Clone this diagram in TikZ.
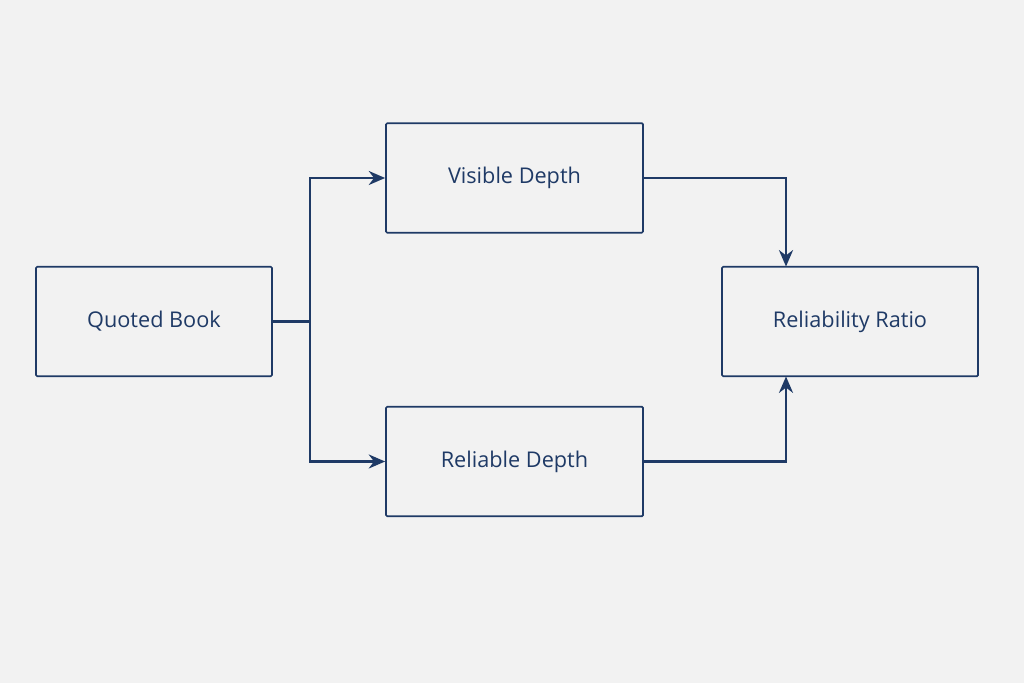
\documentclass[tikz,border=0pt]{standalone}
\usepackage{fontspec}
\setmainfont{Open Sans}
\usetikzlibrary{arrows.meta}
\definecolor{boxLine}{HTML}{1F3A66}
\definecolor{pageBg}{HTML}{F2F2F2}

\begin{document}
\begin{tikzpicture}[x=0.03cm, y=-0.03cm,
    stage/.style={draw=boxLine, line width=1.5pt, rounded corners=1pt, fill=pageBg, text=boxLine,
        font=\fontsize{18.5}{22}\selectfont, minimum height=3.28cm},
    flow/.style={draw=boxLine, line width=2pt, -{Stealth[length=14pt, width=12pt]}}]
    \fill[pageBg] (0,0) rectangle (1024,683);
    \useasboundingbox (0,0) rectangle (1024,683);

    % Source and the two depths
    \node[stage, minimum width=7.08cm] (quoted) at (154,321.5) {Quoted Book};
    \node[stage, minimum width=7.71cm] (visible) at (514.5,178) {Visible Depth};
    \node[stage, minimum width=7.71cm] (reliable) at (514.5,461.5) {Reliable Depth};
    \node[stage, minimum width=7.68cm] (ratio) at (850,321.5) {Reliability Ratio};

    % Connectors
    \coordinate (split) at (310,321.5);
    \coordinate (ratioTop) at (786,266.5);
    \coordinate (ratioBottom) at (786,376.5);
    \draw[draw=boxLine, line width=2pt] (quoted.east) -- (split);
    \draw[flow] (split) |- (visible.west);
    \draw[flow] (split) |- (reliable.west);
    \draw[flow] (visible.east) -| (ratioTop);
    \draw[flow] (reliable.east) -| (ratioBottom);
\end{tikzpicture}
\end{document}
